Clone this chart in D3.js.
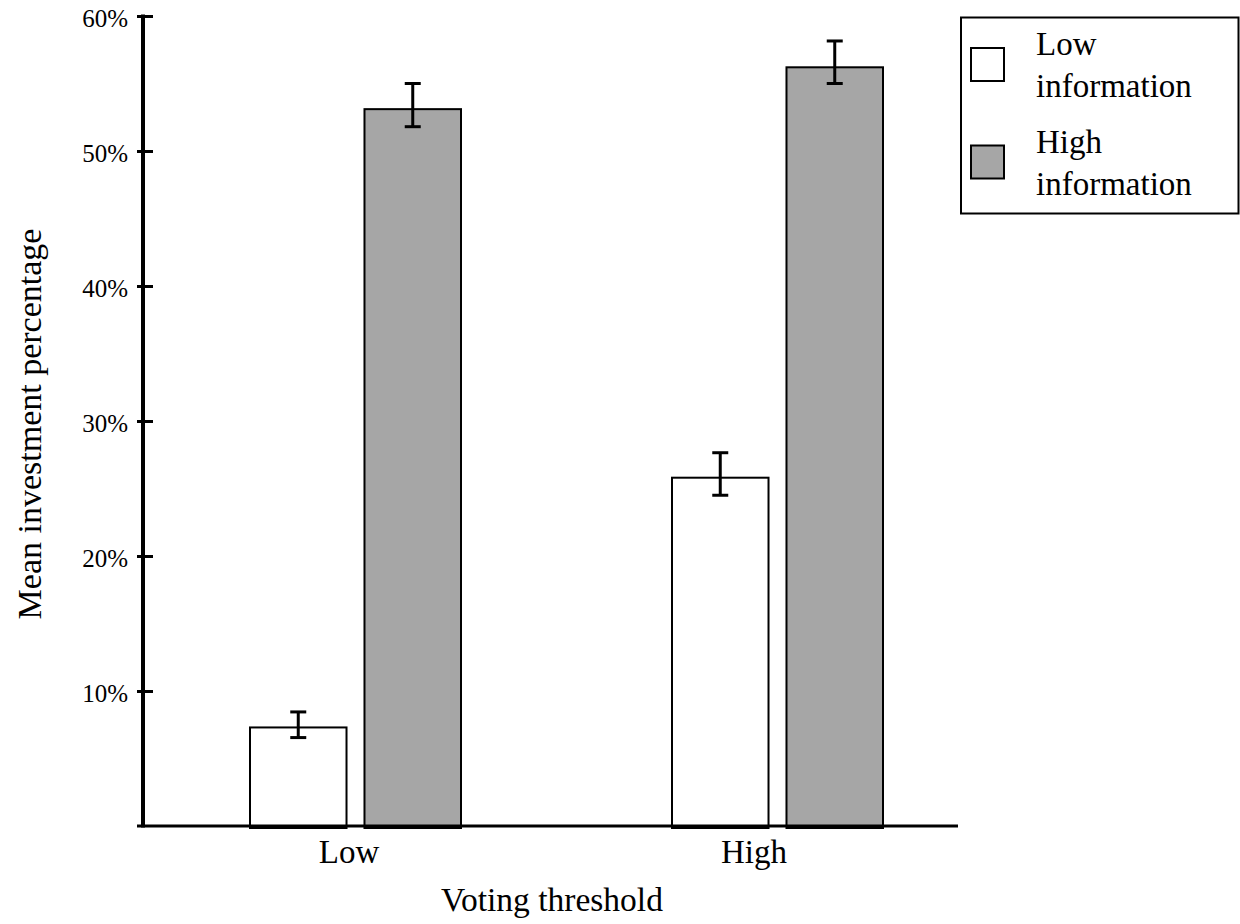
<!DOCTYPE html>
<html>
<head>
<meta charset="utf-8">
<script src="https://cdn.jsdelivr.net/npm/d3@7/dist/d3.min.js"></script>
<style>
  html, body { margin: 0; padding: 0; background: #fff; }
  svg { display: block; }
  svg text { font-family: 'Liberation Serif', 'Times New Roman', Times, 'DejaVu Serif', serif !important; fill: #000; }
</style>
</head>
<body>
<svg id="chart" width="1240" height="924"></svg>
<script>
// ---- data ----
const categories = ["Low", "High"];
const seriesNames = ["Low information", "High information"];
const lowInfoMeans = [7.3, 25.8];
const highInfoMeans = [53.1, 56.2];
const lowInfoLower = [6.55, 24.5];
const lowInfoUpper = [8.45, 27.65];
const highInfoLower = [51.8, 55.0];
const highInfoUpper = [55.0, 58.15];
const yTickValues = [10, 20, 30, 40, 50, 60];
const xTitle = "Voting threshold";
const yTitle = "Mean investment percentage";

const FONT = "'Liberation Serif', 'Times New Roman', Times, 'DejaVu Serif', serif";

const seriesData = [
  { name: seriesNames[0], means: lowInfoMeans, lower: lowInfoLower, upper: lowInfoUpper, fill: "#ffffff" },
  { name: seriesNames[1], means: highInfoMeans, lower: highInfoLower, upper: highInfoUpper, fill: "#a6a6a6" }
];

const svg = d3.select("#chart").attr("font-family", FONT);

// ---- scales ----
const y = d3.scaleLinear().domain([0, 60]).range([826, 16]);
const xGroup = d3.scaleBand().domain(categories).range([144.5, 988.5]).paddingInner(0.5).paddingOuter(0.25);
const xInner = d3.scaleBand().domain(seriesNames).range([0, xGroup.bandwidth()]).paddingInner(0.157);
const xLabel = d3.scalePoint().domain(categories).range([349, 754]);

// ---- bars ----
const groups = svg.append("g").selectAll("g")
  .data(categories)
  .join("g")
  .attr("transform", d => `translate(${xGroup(d)},0)`);

groups.each(function(cat, ci) {
  const g = d3.select(this);
  seriesData.forEach(s => {
    const bx = xInner(s.name);
    const bw = xInner.bandwidth();
    g.append("rect")
      .attr("x", bx)
      .attr("y", y(s.means[ci]))
      .attr("width", bw)
      .attr("height", y(0) - y(s.means[ci]) + 2)
      .attr("fill", s.fill)
      .attr("stroke", "#000")
      .attr("stroke-width", 2);
  });
});

// ---- axes ----
svg.append("line")
  .attr("x1", 137).attr("x2", 958)
  .attr("y1", y(0)).attr("y2", y(0))
  .attr("stroke", "#000").attr("stroke-width", 3);

const yAxis = d3.axisLeft(y).tickValues(yTickValues).tickSize(0).tickFormat(d => d + "%");
const yAxisG = svg.append("g").attr("transform", "translate(143,0)").call(yAxis);
yAxisG.attr("font-family", FONT).attr("font-size", 25);
yAxisG.select(".domain").remove();
yAxisG.append("line")
  .attr("x1", 0).attr("x2", 0)
  .attr("y1", y(60) - 1.5).attr("y2", y(0) + 1.5)
  .attr("stroke", "#000").attr("stroke-width", 4);
yAxisG.selectAll(".tick").append("line")
  .attr("x1", -6).attr("x2", 10)
  .attr("y1", 0).attr("y2", 0)
  .attr("stroke", "#000").attr("stroke-width", 3);
yAxisG.selectAll(".tick text")
  .attr("x", -15)
  .attr("dy", "0.42em")
  .attr("font-family", FONT)
  .style("font-size", "25px")
  .attr("fill", "#000");

// x category labels
svg.append("g").selectAll("text")
  .data(categories)
  .join("text")
  .attr("x", d => xLabel(d))
  .attr("y", 863)
  .attr("text-anchor", "middle")
  .attr("font-family", FONT)
  .style("font-size", "33px")
  .text(d => d);

// ---- error bars ----
groups.each(function(cat, ci) {
  const g = d3.select(this);
  seriesData.forEach(s => {
    const cx = xInner(s.name) + xInner.bandwidth() / 2;
    const lo = y(s.lower[ci]), hi = y(s.upper[ci]);
    g.append("line").attr("x1", cx).attr("x2", cx).attr("y1", hi).attr("y2", lo)
      .attr("stroke", "#000").attr("stroke-width", 3);
    [hi, lo].forEach(yy => {
      g.append("line").attr("x1", cx - 8).attr("x2", cx + 8).attr("y1", yy).attr("y2", yy)
        .attr("stroke", "#000").attr("stroke-width", 3);
    });
  });
});

// ---- titles ----
svg.append("text")
  .attr("x", 552).attr("y", 911)
  .attr("text-anchor", "middle")
  .attr("font-family", FONT)
  .style("font-size", "33.5px")
  .text(xTitle);

svg.append("text")
  .attr("transform", "translate(41,424) rotate(-90)")
  .attr("text-anchor", "middle")
  .attr("font-family", FONT)
  .style("font-size", "34px")
  .text(yTitle);

// ---- legend ----
const legend = svg.append("g");
legend.append("rect")
  .attr("x", 961).attr("y", 17.5)
  .attr("width", 277.5).attr("height", 196)
  .attr("fill", "#fff").attr("stroke", "#000").attr("stroke-width", 2);

const legendItems = legend.selectAll("g.item")
  .data(seriesData)
  .join("g")
  .attr("class", "item")
  .attr("transform", (d, i) => `translate(0,${i * 97.5})`);

legendItems.append("rect")
  .attr("x", 971).attr("y", 48)
  .attr("width", 33).attr("height", 33)
  .attr("fill", d => d.fill)
  .attr("stroke", "#000").attr("stroke-width", 2);

legendItems.each(function(d) {
  const words = d.name.split(" ");
  const t = d3.select(this).append("text")
    .attr("x", 1036).attr("y", 55)
    .attr("font-family", FONT)
    .style("font-size", "33px");
  t.append("tspan").attr("x", 1036).attr("dy", 0).text(words[0]);
  t.append("tspan").attr("x", 1036).attr("dy", 42).text(words.slice(1).join(" "));
});
</script>
</body>
</html>
